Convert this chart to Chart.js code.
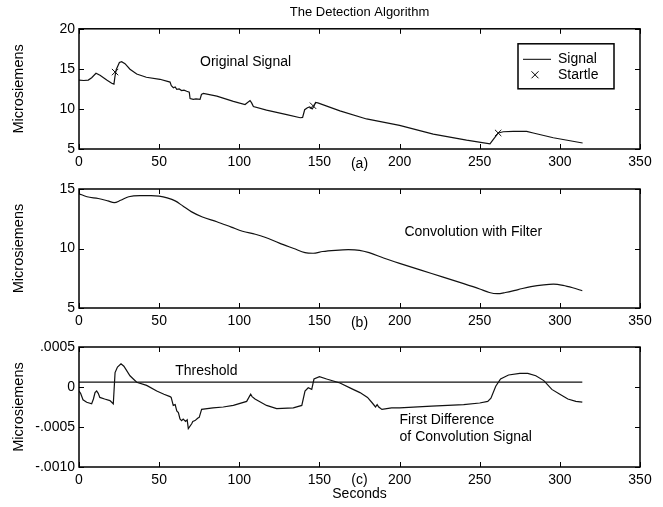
<!DOCTYPE html>
<html>
<head>
<meta charset="utf-8">
<title>The Detection Algorithm</title>
<script src="https://cdn.jsdelivr.net/npm/chart.js@4.4.1/dist/chart.umd.min.js"></script>
<style>
  body { margin: 0; background: #fff; }
  #wrap { position: relative; width: 663px; height: 507px; }
  canvas { position: absolute; left: 0; }
</style>
</head>
<body>
<div id="wrap">
  <canvas id="chartA" width="663" height="173" style="top:0px"></canvas>
  <canvas id="chartB" width="663" height="159" style="top:173px"></canvas>
  <canvas id="chartC" width="663" height="175" style="top:332px"></canvas>
</div>
<script>
// (a) original signal, seconds / microsiemens
const sigT = [0, 3, 5.8, 7.9, 10.6, 13.1, 17.3, 20.4, 21.8, 22.4, 23.2, 25.2, 26.6, 28.7, 31.8, 36, 42, 50.5,
  56.8, 57.6, 58.9, 60, 61, 62.5, 64, 65.5, 67.2, 68.8, 69.3, 71.3, 73, 75.5, 76.4, 77.6, 86, 96.3, 103.6,
  106.7, 107.7, 108.8, 117, 129.6, 138, 139.5, 140.8, 142.5, 143.9, 145.5, 146.5, 147.6, 149, 162.8, 179.4,
  200, 221, 241.8, 256.4, 258.5, 261.6, 264.7, 271, 279.3, 283.4, 295.9, 314.2];
const sigV = [13.6, 13.55, 13.6, 13.9, 14.45, 14.2, 13.6, 13.2, 13.1, 14.0, 14.9, 15.8, 15.9, 15.65, 14.95, 14.35, 13.95, 13.7,
  13.35, 12.9, 12.65, 12.75, 12.45, 12.5, 12.3, 12.35, 12.2, 12.1, 11.3, 11.2, 11.25, 11.2, 11.8, 11.95, 11.6, 10.95, 10.55,
  11.05, 10.75, 10.3, 9.85, 9.3, 8.9, 8.95, 9.9, 10.15, 10.25, 10.0, 10.3, 10.8, 10.75, 9.75, 8.75,
  7.95, 6.85, 6.1, 5.65, 6.2, 7.0, 7.15, 7.2, 7.2, 7.0, 6.4, 5.75];
const startleT = [22.5, 146, 261.5];
const startleV = [14.6, 10.4, 7.0];

// (b) convolution with filter
const convT = [0, 5, 12, 18, 22, 26, 31, 38, 45, 50, 55, 60, 65, 70, 77, 86, 95, 102, 110, 116, 125, 134, 141,
  146, 152, 160, 168, 175, 181, 190, 200, 220, 240, 250, 256, 261, 266, 274, 282, 290, 296, 302, 308, 314];
const convV = [14.6, 14.35, 14.2, 14.0, 13.85, 14.05, 14.35, 14.45, 14.45, 14.4, 14.25, 14.0, 13.55, 13.1, 12.65, 12.25, 11.8, 11.45, 11.2, 10.95, 10.45, 10.0, 9.65,
  9.6, 9.75, 9.85, 9.9, 9.85, 9.65, 9.2, 8.75, 7.9, 7.05, 6.6, 6.3, 6.2, 6.3, 6.55, 6.8, 6.95, 7.0, 6.9, 6.7, 6.45];

// (c) first difference of convolution signal
const diffT = [0, 1, 2.5, 4.8, 7.9, 9, 10, 11, 12, 13, 16, 19.3, 21.4, 22.5, 24, 26.2, 28, 31.8, 36, 42.2, 48.5, 53,
  56.8, 57.5, 58.8, 60, 61, 62, 63, 64, 65, 66.5, 67.5, 68.2, 70.3, 71, 72.4, 74, 75, 76.5, 83.6, 90, 96.3,
  104.6, 107.1, 108, 109.8, 117, 123.3, 133.7, 139, 141, 143, 145.2, 146.6, 150, 154.5, 162.8, 170, 175.3,
  180, 183, 185, 186, 187, 189, 195, 200, 220, 240, 250, 255, 257, 260, 263, 268, 275, 280, 285, 290, 295,
  300, 305, 310, 314];
const diffV = [-0.00005, -0.00008, -0.00016, -0.00019, -0.00021, -0.00015, -0.00007, -0.00005, -0.00008, -0.00013, -0.00015, -0.00017, -0.00021, 0.00018, 0.00025, 0.00029, 0.00026, 0.00014, 0.00006, 0.00002, -0.00005, -0.00009,
  -0.00012, -0.00013, -0.00023, -0.00022, -0.0003, -0.00032, -0.0004, -0.00042, -0.0004, -0.00043, -0.00041, -0.00052, -0.00046, -0.00043, -0.00042, -0.00039, -0.00038, -0.00028, -0.00026, -0.00025, -0.00023,
  -0.00018, -0.00009, -0.00012, -0.00015, -0.00023, -0.00027, -0.00026, -0.00023, -0.00005, -0.00001, -0.00003, 0.0001, 0.00013, 0.0001, 0.00005, -0.00002, -0.00007,
  -0.00013, -0.0002, -0.00025, -0.00022, -0.00025, -0.00028, -0.00026, -0.00026, -0.00024, -0.00022, -0.0002, -0.00018, -0.00014, 0.00001, 0.0001, 0.00015, 0.00017, 0.00017, 0.00014, 0.00008, -0.00003,
  -0.00009, -0.00015, -0.00018, -0.00019];
const threshT = [0, 314];
const threshV = [0.00006, 0.00006];

// axes
const xTicks = [0, 50, 100, 150, 200, 250, 300, 350];
const yTicksA = [5, 10, 15, 20];
const yTicksB = [5, 10, 15];
const yTicksC = [-0.001, -0.0005, 0, 0.0005];
const yLabelsC = ['-.0010', '-.0005', '0', '.0005'];

const pts = (t, v) => t.map((x, i) => ({x: x, y: v[i]}));

Chart.defaults.font.family = '"Liberation Sans", Arial, Helvetica, sans-serif';
Chart.defaults.font.size = 14;
Chart.defaults.color = '#000';
Chart.defaults.animation = false;

const INK = '#111';

// box around the plot area with inward tick marks on all four sides
const boxTicks = {
  id: 'boxTicks',
  afterDatasetsDraw(chart) {
    const {ctx, chartArea: a, scales: {x, y}} = chart;
    ctx.save();
    ctx.strokeStyle = '#000';
    ctx.lineWidth = 1;
    ctx.beginPath();
    x.ticks.forEach(t => {
      const px = Math.round(x.getPixelForValue(t.value)) + 0.5;
      ctx.moveTo(px, a.top); ctx.lineTo(px, a.top + 5);
      ctx.moveTo(px, a.bottom); ctx.lineTo(px, a.bottom - 5);
    });
    y.ticks.forEach(t => {
      const py = Math.round(y.getPixelForValue(t.value)) + 0.5;
      ctx.moveTo(a.left, py); ctx.lineTo(a.left + 5, py);
      ctx.moveTo(a.right, py); ctx.lineTo(a.right - 5, py);
    });
    ctx.stroke();
    ctx.lineWidth = 1.5;
    ctx.strokeRect(a.left, a.top, a.right - a.left, a.bottom - a.top);
    ctx.restore();
  }
};

// free text labels placed in data coordinates
const notes = {
  id: 'notes',
  afterDraw(chart, args, opts) {
    const {ctx, scales: {x, y}} = chart;
    ctx.save();
    ctx.fillStyle = '#000';
    ctx.font = '14px "Liberation Sans", Arial, sans-serif';
    ctx.textBaseline = 'middle';
    (opts.items || []).forEach(n => {
      ctx.fillText(n.text, x.getPixelForValue(n.x), y.getPixelForValue(n.y));
    });
    ctx.restore();
  }
};

// matlab style boxed legend in the top right corner
const boxLegend = {
  id: 'boxLegend',
  afterDraw(chart) {
    const {ctx, chartArea: a} = chart;
    const ds = chart.data.datasets;
    const left = a.right - 122, top = a.top + 15, w = 96, h = 45;
    ctx.save();
    ctx.fillStyle = '#fff';
    ctx.fillRect(left, top, w, h);
    ctx.strokeStyle = '#000';
    ctx.lineWidth = 1.5;
    ctx.strokeRect(left, top, w, h);
    ctx.lineWidth = 1;
    ctx.beginPath();
    ctx.moveTo(left + 5, top + 15.5); ctx.lineTo(left + 33, top + 15.5);
    const cx = left + 17, cy = top + 31;
    ctx.moveTo(cx - 3.5, cy - 3.5); ctx.lineTo(cx + 3.5, cy + 3.5);
    ctx.moveTo(cx + 3.5, cy - 3.5); ctx.lineTo(cx - 3.5, cy + 3.5);
    ctx.stroke();
    ctx.fillStyle = '#000';
    ctx.font = '14px "Liberation Sans", Arial, sans-serif';
    ctx.textBaseline = 'middle';
    ctx.fillText(ds[0].label, left + 40, top + 15);
    ctx.fillText(ds[1].label, left + 40, top + 31);
    ctx.restore();
  }
};

function xScale(title, titleHeight, padBottom) {
  return {
    type: 'linear', min: 0, max: 350,
    afterBuildTicks: s => { s.ticks = xTicks.map(v => ({value: v})); },
    afterFit: s => { s.height = titleHeight; },
    ticks: { padding: 5, callback: (v) => String(v) },
    grid: { display: false, drawTicks: false },
    border: { display: false },
    title: { display: true, text: title, font: { size: 14, lineHeight: 1.0 }, padding: { top: 0, bottom: padBottom } }
  };
}

function yScale(min, max, values, labels) {
  return {
    type: 'linear', min: min, max: max,
    afterBuildTicks: s => { s.ticks = values.map(v => ({value: v})); },
    afterFit: s => { s.width = 73; },
    ticks: { padding: 4, callback: (v, i) => labels[i] },
    grid: { display: false, drawTicks: false },
    border: { display: false },
    title: { display: true, text: 'Microsiemens', font: { size: 14.5 }, padding: { top: 4, bottom: 0 } }
  };
}

function lineSet(label, t, v, extra) {
  return Object.assign({
    label: label,
    data: pts(t, v),
    borderColor: INK,
    borderWidth: 1.2,
    pointRadius: 0,
    fill: false,
    tension: 0
  }, extra || {});
}

new Chart(document.getElementById('chartA'), {
  type: 'line',
  data: {
    datasets: [
      lineSet('Signal', sigT, sigV),
      {
        label: 'Startle',
        data: pts(startleT, startleV),
        showLine: false,
        pointStyle: 'crossRot',
        pointRadius: 4.5,
        borderColor: INK,
        borderWidth: 1
      }
    ]
  },
  options: {
    responsive: false,
    layout: { padding: { left: 6, right: 23, top: 0, bottom: 0 } },
    plugins: {
      legend: { display: false },
      tooltip: { enabled: false },
      title: {
        display: true, text: 'The Detection Algorithm', fullSize: false,
        font: { size: 13, weight: 'normal' }, color: '#000',
        padding: { top: 5, bottom: 8.2 }
      },
      notes: { items: [{ text: 'Original Signal', x: 75.5, y: 15.8 }] }
    },
    scales: {
      x: xScale('(a)', 24, 2),
      y: yScale(5, 20, yTicksA, yTicksA.map(String))
    }
  },
  plugins: [boxTicks, notes, boxLegend]
});

new Chart(document.getElementById('chartB'), {
  type: 'line',
  data: {
    datasets: [lineSet('Convolution', convT, convV, { cubicInterpolationMode: 'monotone' })]
  },
  options: {
    responsive: false,
    layout: { padding: { left: 6, right: 23, top: 16, bottom: 0 } },
    plugins: {
      legend: { display: false },
      tooltip: { enabled: false },
      notes: { items: [{ text: 'Convolution with Filter', x: 203, y: 11.4 }] }
    },
    scales: {
      x: xScale('(b)', 24, 2),
      y: yScale(5, 15, yTicksB, yTicksB.map(String))
    }
  },
  plugins: [boxTicks, notes]
});

new Chart(document.getElementById('chartC'), {
  type: 'line',
  data: {
    datasets: [
      lineSet('First Difference', diffT, diffV),
      lineSet('Threshold', threshT, threshV)
    ]
  },
  options: {
    responsive: false,
    layout: { padding: { left: 6, right: 23, top: 15, bottom: 0 } },
    plugins: {
      legend: { display: false },
      tooltip: { enabled: false },
      notes: { items: [
        { text: 'Threshold', x: 60, y: 0.0002 },
        { text: 'First Difference', x: 200, y: -0.00041 },
        { text: 'of Convolution Signal', x: 200, y: -0.00063 }
      ] }
    },
    scales: {
      x: xScale(['(c)', 'Seconds'], 40, 6),
      y: yScale(-0.001, 0.0005, yTicksC, yLabelsC)
    }
  },
  plugins: [boxTicks, notes]
});
</script>
</body>
</html>
